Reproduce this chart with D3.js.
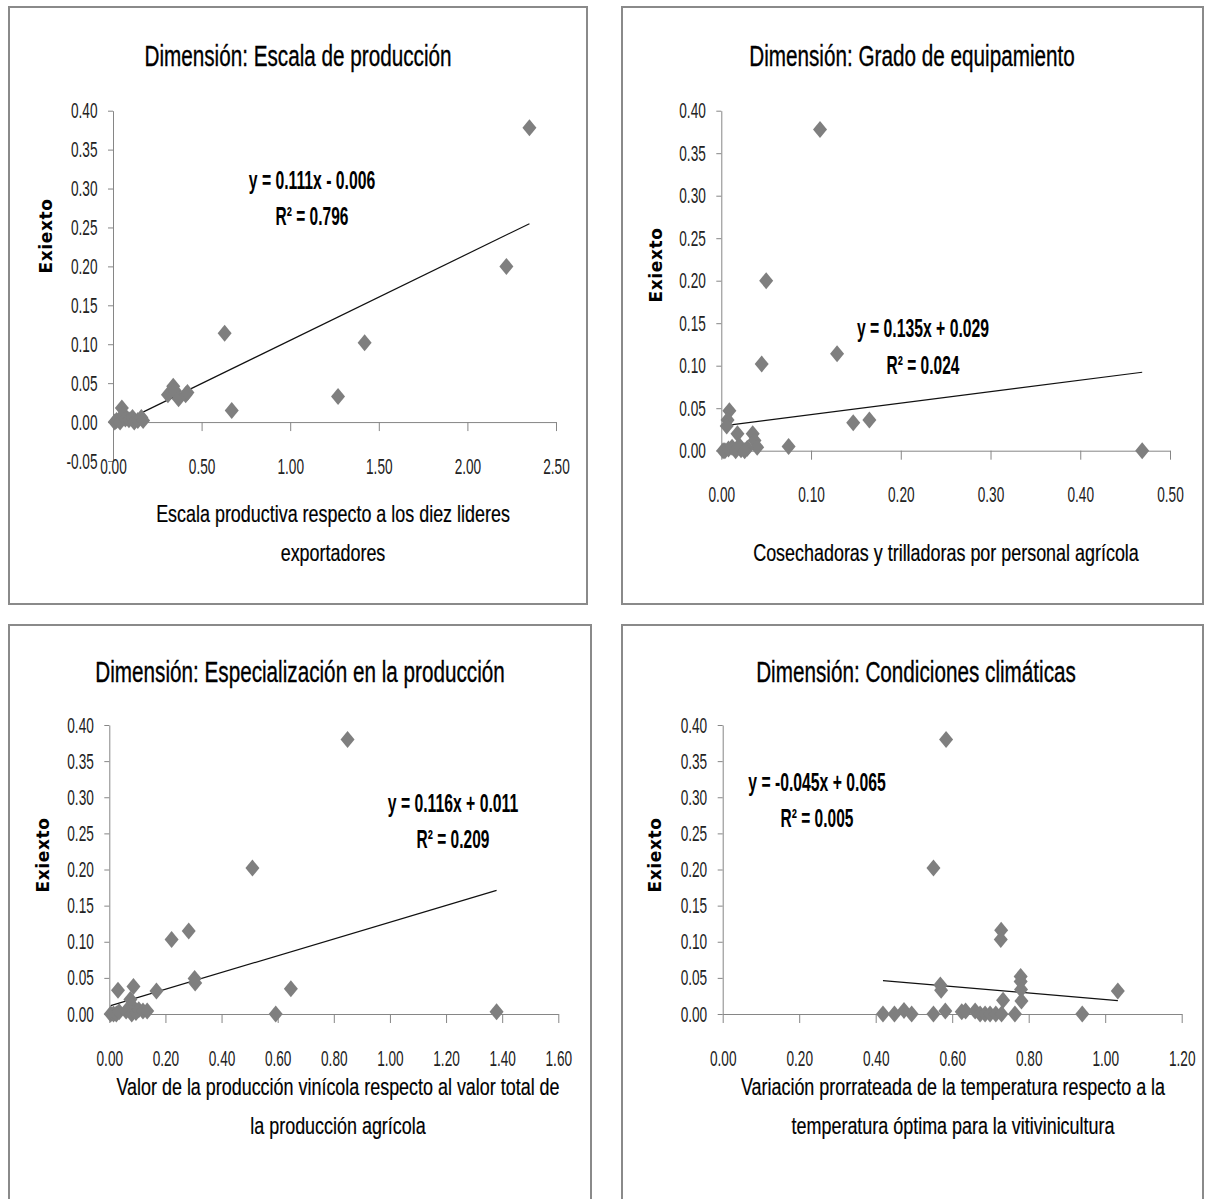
<!DOCTYPE html>
<html>
<head>
<meta charset="utf-8">
<script src="https://cdn.jsdelivr.net/npm/d3@7"></script>
<style>
  body { margin: 0; background: #fff; }
  svg text { font-family: "Liberation Sans Narrow", "Liberation Sans", Arial, sans-serif; }
</style>
</head>
<body>
<div id="app"></div>
<script>
// ---- data ----
const titles = [
  "Dimensión: Escala de producción",
  "Dimensión: Grado de equipamiento",
  "Dimensión: Especialización en la producción",
  "Dimensión: Condiciones climáticas"
];
const xTitles = [
  ["Escala productiva respecto a los diez lideres", "exportadores"],
  ["Cosechadoras y trilladoras por personal agrícola"],
  ["Valor de la producción vinícola respecto al valor total de", "la producción agrícola"],
  ["Variación prorrateada de la temperatura respecto a la", "temperatura óptima para la vitivinicultura"]
];
const yTitle = "Exiexto";

const escalaX = [2.35, 2.22, 0.63, 1.42, 1.27, 0.67, 0.31, 0.34, 0.35, 0.37, 0.41, 0.42,
  0.01, 0.02, 0.04, 0.05, 0.06, 0.07, 0.09, 0.11, 0.12, 0.14, 0.16, 0.17];
const escalaY = [0.378, 0.200, 0.114, 0.102, 0.033, 0.015, 0.035, 0.046, 0.040, 0.030, 0.035, 0.038,
  0.000, 0.002, 0.000, 0.018, 0.010, 0.004, 0.003, 0.006, 0.000, 0.002, 0.006, 0.002];

const equipX = [0.110, 0.050, 0.045, 0.129, 0.147, 0.165, 0.469, 0.075, 0.009, 0.007, 0.006, 0.018,
  0.035, 0.037, 0.040, 0.029, 0.022, 0.002, 0.004, 0.008, 0.012, 0.016, 0.020, 0.026];
const equipY = [0.378, 0.200, 0.102, 0.114, 0.033, 0.036, 0.000, 0.005, 0.047, 0.036, 0.029, 0.020,
  0.020, 0.012, 0.004, 0.003, 0.001, 0.000, 0.000, 0.002, 0.004, 0.000, 0.006, 0.000];

const especX = [0.849, 0.510, 0.283, 0.222, 0.304, 0.306, 0.647, 0.593, 1.380, 0.168, 0.031, 0.086,
  0.075, 0.080, 0.005, 0.015, 0.025, 0.035, 0.060, 0.080, 0.095, 0.105, 0.120, 0.135];
const especY = [0.380, 0.202, 0.115, 0.103, 0.049, 0.043, 0.035, 0.000, 0.003, 0.032, 0.033, 0.038,
  0.020, 0.012, 0.000, 0.000, 0.000, 0.003, 0.004, 0.000, 0.002, 0.006, 0.004, 0.004];

const climaX = [0.584, 0.551, 0.728, 0.727, 0.779, 0.779, 0.780, 0.781, 0.733, 1.033, 0.940, 0.569,
  0.571, 0.419, 0.449, 0.474, 0.494, 0.551, 0.582, 0.625, 0.635, 0.660, 0.673, 0.686, 0.699,
  0.714, 0.729, 0.764];
const climaY = [0.380, 0.202, 0.116, 0.103, 0.052, 0.045, 0.034, 0.018, 0.019, 0.032, 0.000, 0.040,
  0.033, 0.000, 0.000, 0.005, 0.000, 0.000, 0.004, 0.003, 0.004, 0.004, 0.000, 0.000, 0.000,
  0.000, 0.000, 0.000];

// trend lines as printed on the chart
const slopes = [0.111, 0.135, 0.116, -0.045];
const intercepts = [-0.006, 0.029, 0.011, 0.065];
const equations = ["y = 0.111x - 0.006", "y = 0.135x + 0.029", "y = 0.116x + 0.011", "y = -0.045x + 0.065"];
const rSquared = ["R² = 0.796", "R² = 0.024", "R² = 0.209", "R² = 0.005"];

const yTicksA = [-0.05, 0, 0.05, 0.10, 0.15, 0.20, 0.25, 0.30, 0.35, 0.40];
const yTicksB = [0, 0.05, 0.10, 0.15, 0.20, 0.25, 0.30, 0.35, 0.40];
const xTicks1 = [0, 0.5, 1.0, 1.5, 2.0, 2.5];
const xTicks2 = [0, 0.1, 0.2, 0.3, 0.4, 0.5];
const xTicks3 = [0, 0.2, 0.4, 0.6, 0.8, 1.0, 1.2, 1.4, 1.6];
const xTicks4 = [0, 0.2, 0.4, 0.6, 0.8, 1.0, 1.2];

// ---- layout ----
const W = 1206, H = 1199;
const panels = [
  { xs: escalaX, ys: escalaY, xTicks: xTicks1, yTicks: yTicksA, box: [9, 7, 578, 597],
    xr: [113, 556], yr: [461, 110.7], title: [298, 55], xt: [333, 514], yl: [46, 236], eq: [312, 180] },
  { xs: equipX, ys: equipY, xTicks: xTicks2, yTicks: yTicksB, box: [622, 7, 581, 597],
    xr: [721.3, 1170], yr: [450.7, 110.7], title: [912, 55], xt: [946, 553], yl: [656, 265], eq: [923, 328] },
  { xs: especX, ys: especY, xTicks: xTicks3, yTicks: yTicksB, box: [9, 625, 582, 600],
    xr: [109.3, 558.3], yr: [1014, 725], title: [300, 671], xt: [338, 1087], yl: [43, 855], eq: [453, 803] },
  { xs: climaX, ys: climaY, xTicks: xTicks4, yTicks: yTicksB, box: [622, 625, 581, 600],
    xr: [722.7, 1181.7], yr: [1014, 725], title: [916, 671], xt: [953, 1087], yl: [655, 855], eq: [817, 782] }
];

const axisColor = "#868686";
const markColor = "#7f7f7f";
const tickSize = 22;
const tickSX = 0.62;

const svg = d3.select("#app").append("svg").attr("width", W).attr("height", H);

// text with a horizontal squeeze, like the original rendering
const addText = (g, x, y, str, size, opts = {}) =>
  g.append("text")
    .attr("transform", `translate(${x},${y}) scale(${opts.sx || 1},1)`)
    .attr("text-anchor", "middle")
    .attr("dy", "0.35em")
    .attr("font-size", size)
    .attr("font-weight", opts.bold ? "bold" : "normal")
    .attr("fill", opts.fill || "#000")
    .attr("stroke", opts.stroke ? "#000" : null)
    .attr("stroke-width", opts.stroke || null)
    .text(str);

panels.forEach((p, i) => {
  const g = svg.append("g");

  g.append("rect")
    .attr("x", p.box[0]).attr("y", p.box[1])
    .attr("width", p.box[2]).attr("height", p.box[3])
    .attr("fill", "#fff").attr("stroke", "#8a8a8a").attr("stroke-width", 2);

  const x = d3.scaleLinear().domain(d3.extent(p.xTicks)).range(p.xr);
  const y = d3.scaleLinear().domain(d3.extent(p.yTicks)).range(p.yr);

  // y axis
  const yAxis = g.append("g")
    .attr("transform", `translate(${p.xr[0]},0)`)
    .call(d3.axisLeft(y).tickValues(p.yTicks).tickSize(5).tickSizeOuter(0)
      .tickFormat((d) => d.toFixed(2)));

  // x axis at y = 0, labels pushed down under the plot
  const xAxis = g.append("g")
    .attr("transform", `translate(0,${y(0)})`)
    .call(d3.axisBottom(x).tickValues(p.xTicks).tickSize(9).tickSizeOuter(0)
      .tickFormat((d) => d.toFixed(2)));

  [yAxis, xAxis].forEach((a) => {
    a.select(".domain").attr("stroke", axisColor);
    a.selectAll(".tick line").attr("stroke", axisColor);
    a.selectAll(".tick text")
      .attr("font-size", tickSize)
      .attr("fill", "#222")
      .attr("font-family", '"Liberation Sans Narrow", "Liberation Sans", Arial, sans-serif');
  });
  yAxis.selectAll(".tick text").attr("x", -15.5 / tickSX).attr("transform", `scale(${tickSX},1)`);
  xAxis.selectAll(".tick text").attr("y", 36).attr("transform", `scale(${tickSX},1)`);

  // trend line over the data range
  const xMin = d3.min(p.xs), xMax = d3.max(p.xs);
  const trend = [xMin, xMax].map((v) => [v, slopes[i] * v + intercepts[i]]);
  g.append("path")
    .datum(trend)
    .attr("fill", "none")
    .attr("stroke", "#111")
    .attr("stroke-width", 1.2)
    .attr("d", d3.line().x((d) => x(d[0])).y((d) => y(d[1])));

  // diamonds
  const pts = p.xs.map((v, k) => [v, p.ys[k]]);
  g.selectAll("path.pt")
    .data(pts)
    .join("path")
    .attr("class", "pt")
    .attr("transform", (d) => `translate(${x(d[0])},${y(d[1])})`)
    .attr("d", "M0,-8.5L7,0L0,8.5L-7,0Z")
    .attr("fill", markColor);

  // texts
  addText(g, p.title[0], p.title[1], titles[i], 30, { sx: 0.69, stroke: 0.35 });
  xTitles[i].forEach((line, k) => addText(g, p.xt[0], p.xt[1] + k * 39, line, 23, { sx: 0.78, stroke: 0.2 }));
  addText(g, p.eq[0], p.eq[1], equations[i], 25, { bold: true, sx: 0.63 });
  addText(g, p.eq[0], p.eq[1] + (i === 1 ? 37 : 36), rSquared[i], 25, { bold: true, sx: 0.62 });

  g.append("text")
    .attr("transform", `translate(${p.yl[0]},${p.yl[1]}) rotate(-90)`)
    .attr("text-anchor", "middle")
    .attr("dy", "0.35em")
    .attr("font-size", 17)
    .attr("font-weight", "bold")
    .attr("letter-spacing", 0.6)
    .style("font-family", '"DejaVu Sans", sans-serif')
    .text(yTitle);
});
</script>
</body>
</html>
